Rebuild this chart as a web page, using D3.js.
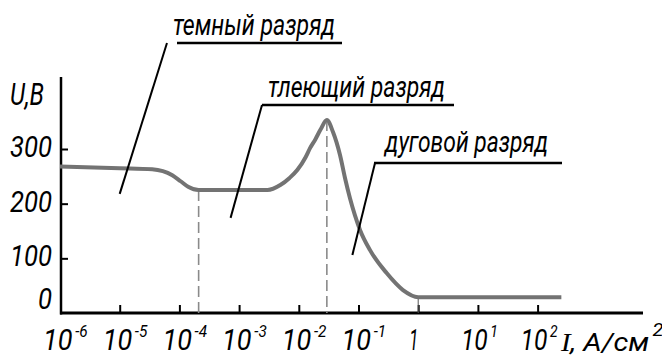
<!DOCTYPE html>
<html>
<head>
<meta charset="utf-8">
<script src="https://cdn.jsdelivr.net/npm/d3@7"></script>
<style>
  html, body { margin: 0; padding: 0; background: #fff; }
  svg { display: block; }
</style>
</head>
<body>
<svg id="chart" width="662" height="357"></svg>
<script>
// Current-voltage characteristic of a gas discharge
const currentDensity = [1e-6, 1e-5, 3.5e-5, 7.6e-5, 1.05e-4, 1.4e-4, 2.1e-4, 3.0e-3, 4.9e-3,
  7.0e-3, 9.5e-3, 1.3e-2, 1.55e-2, 1.9e-2, 2.3e-2, 2.95e-2, 3.74e-2, 4.9e-2, 5.94e-2, 7.2e-2,
  8.7e-2, 0.106, 0.156, 0.296, 0.556, 1, 250];
const voltage = [268, 265, 263, 252, 241, 231, 225, 225, 234,
  247, 262, 285, 302, 318, 335, 353, 331, 289, 247, 210,
  179, 152, 115, 73, 42, 29, 29];

// Guide lines dropped to the axis
const guideCurrent = [2.1e-4, 2.95e-2, 1];
const guideVoltage = [225, 353, 29];
const guideDashed = [true, true, false];

// Tick values
const yTicks = [0, 100, 200, 300];
const yTickLabels = ["0", "100", "200", "300"];
const xTickExponents = [-6, -5, -4, -3, -2, -1, 0, 1, 2];

// Region labels with leader lines; tips are given in data units
const regionNames = ["темный разряд", "тлеющий разряд", "дуговой разряд"];
const regionTipCurrent = [1e-5, 7.2e-4, 7.9e-2];
const regionTipVoltage = [218, 174, 106];

const SANS = "Roboto, 'DejaVu Sans', sans-serif";
const SERIF = "'Liberation Serif', 'DejaVu Serif', serif";
const WEIGHT = 400;
const svg = d3.select("#chart");

const x = d3.scaleLog().domain([1e-6, 1e2]).range([60, 537.6]);
const y = d3.scaleLinear().domain([0, 300]).range([313, 149]);

const axisX0 = 60, axisX1 = 643, axisY = y(0), axisTop = 77;

// Font size giving sample glyphs a set pixel height (glyph top found by scanning a canvas)
const probe = document.createElement("canvas");
probe.width = 1000; probe.height = 200;
const pctx = probe.getContext("2d", { willReadFrequently: true });
function glyphAscent(sample, family, style) {
  pctx.clearRect(0, 0, probe.width, probe.height);
  pctx.font = `${style || "italic"} ${WEIGHT} 100px ${family || SANS}`;
  pctx.fillStyle = "#000";
  pctx.textBaseline = "alphabetic";
  pctx.fillText(sample, 10, 150);
  const data = pctx.getImageData(0, 0, probe.width, 150).data;
  for (let row = 0; row < 150; row++) {
    for (let col = 0; col < probe.width; col++) {
      if (data[(row * probe.width + col) * 4 + 3] > 110) return (150 - row) / 100;
    }
  }
  return 0.7;
}
function sizeFor(height, sample, family, style) {
  return height / glyphAscent(sample, family, style);
}

// Text squeezed horizontally to a given width
function fitText(g, xPos, yPos, width, anchor) {
  const t = g.append("text")
    .attr("text-anchor", anchor || "start")
    .style("font-family", SANS)
    .style("font-style", "italic")
    .style("font-weight", WEIGHT)
    .attr("fill", "#000");
  t.fit = () => {
    const w = t.node().getComputedTextLength();
    t.attr("transform", `translate(${xPos},${yPos}) scale(${width / w},1)`);
    return t;
  };
  return t;
}

const DIGITS = "0123456789";
const digitSize = sizeFor(22, DIGITS);
const supSize = sizeFor(12.5, DIGITS);

// Axes lines
svg.append("line")
  .attr("x1", 61).attr("x2", 61).attr("y1", axisTop).attr("y2", axisY + 1.5)
  .attr("stroke", "#000").attr("stroke-width", 2.5);
svg.append("line")
  .attr("x1", axisX0).attr("x2", axisX1).attr("y1", axisY).attr("y2", axisY)
  .attr("stroke", "#000").attr("stroke-width", 3);

// X ticks (upward)
const xAxis = d3.axisBottom(x).tickValues(xTickExponents.slice(1).map(e => Math.pow(10, e)))
  .tickSize(-8).tickFormat("");
const gx = svg.append("g").attr("transform", `translate(0,${axisY})`).call(xAxis);
gx.select(".domain").remove();
gx.selectAll(".tick line").attr("stroke", "#000").attr("stroke-width", 2);

// Y ticks (rightward)
const yAxis = d3.axisLeft(y).tickValues(yTicks.slice(1)).tickSize(-7).tickFormat("");
const gy = svg.append("g").attr("transform", `translate(61,0)`).call(yAxis);
gy.select(".domain").remove();
gy.selectAll(".tick line").attr("stroke", "#000").attr("stroke-width", 2);

// Y tick labels: about 14 px per digit
const gyl = svg.append("g");
yTicks.forEach((v, i) => {
  const yy = Math.min(y(v) + 8, axisY - 4);
  const s = yTickLabels[i];
  fitText(gyl, 52, yy, 14 * s.length, "end").attr("font-size", digitSize).text(s).fit();
});

// X tick labels: "10" with raised exponent
const gxl = svg.append("g");
xTickExponents.forEach(e => {
  const tx = x(Math.pow(10, e));
  if (e === 0) {
    fitText(gxl, tx - 9, 350, 9).attr("font-size", digitSize).text("1").fit();
  } else {
    const sup = e < 0 ? "-" + (-e) : String(e);
    const t = fitText(gxl, tx - 17, 350, 24 + 3 + 7.5 * sup.length);
    t.append("tspan").attr("font-size", digitSize).text("10");
    t.append("tspan").attr("font-size", supSize).attr("dx", 3).attr("dy", -13).text(sup);
    t.fit();
  }
});

// Axis titles
fitText(svg, 10, 105, 34).attr("font-size", sizeFor(22, "UВ")).text("U,В").fit();
const title = fitText(svg, 561, 351, 99);
title.append("tspan")
  .style("font-family", SERIF).style("font-style", "italic")
  .attr("font-size", sizeFor(17, "I", SERIF)).text("I");
title.append("tspan").attr("font-size", sizeFor(19, "А")).text(", А/см");
title.append("tspan").attr("font-size", sizeFor(13, "2")).attr("dx", 3).attr("dy", -15).text("2");
title.fit();

// Guide lines
guideCurrent.forEach((c, i) => {
  svg.append("line")
    .attr("x1", x(c)).attr("x2", x(c))
    .attr("y1", y(guideVoltage[i])).attr("y2", axisY)
    .attr("stroke", guideDashed[i] ? "#8a8a8a" : "#555")
    .attr("stroke-width", guideDashed[i] ? 1.6 : 1)
    .attr("stroke-dasharray", guideDashed[i] ? "11,5" : null);
});

// The characteristic curve
const pts = currentDensity.map((c, i) => [x(c), y(voltage[i])]);
svg.append("path")
  .attr("d", d3.line().curve(d3.curveMonotoneX)(pts))
  .attr("fill", "none")
  .attr("stroke", "#737373")
  .attr("stroke-width", 4)
  .attr("stroke-linejoin", "round");

// Region labels, underlines and leaders
const labelPos = [[173, 35], [268, 97], [385, 152]];
const labelLen = [162, 177, 163];
const underline = [[177, 342, 43], [262, 454, 105], [374, 562, 163]];
const leaderTop = [[167, 43], [262, 105], [375, 163]];
const regionSize = sizeFor(15.5, "емнаовр");
regionNames.forEach((name, i) => {
  fitText(svg, labelPos[i][0], labelPos[i][1], labelLen[i])
    .attr("font-size", regionSize).text(name).fit();
  svg.append("line")
    .attr("x1", underline[i][0]).attr("x2", underline[i][1])
    .attr("y1", underline[i][2]).attr("y2", underline[i][2])
    .attr("stroke", "#000").attr("stroke-width", 2.5);
  svg.append("line")
    .attr("x1", leaderTop[i][0]).attr("y1", leaderTop[i][1])
    .attr("x2", x(regionTipCurrent[i])).attr("y2", y(regionTipVoltage[i]))
    .attr("stroke", "#000").attr("stroke-width", 2);
});
</script>
</body>
</html>
